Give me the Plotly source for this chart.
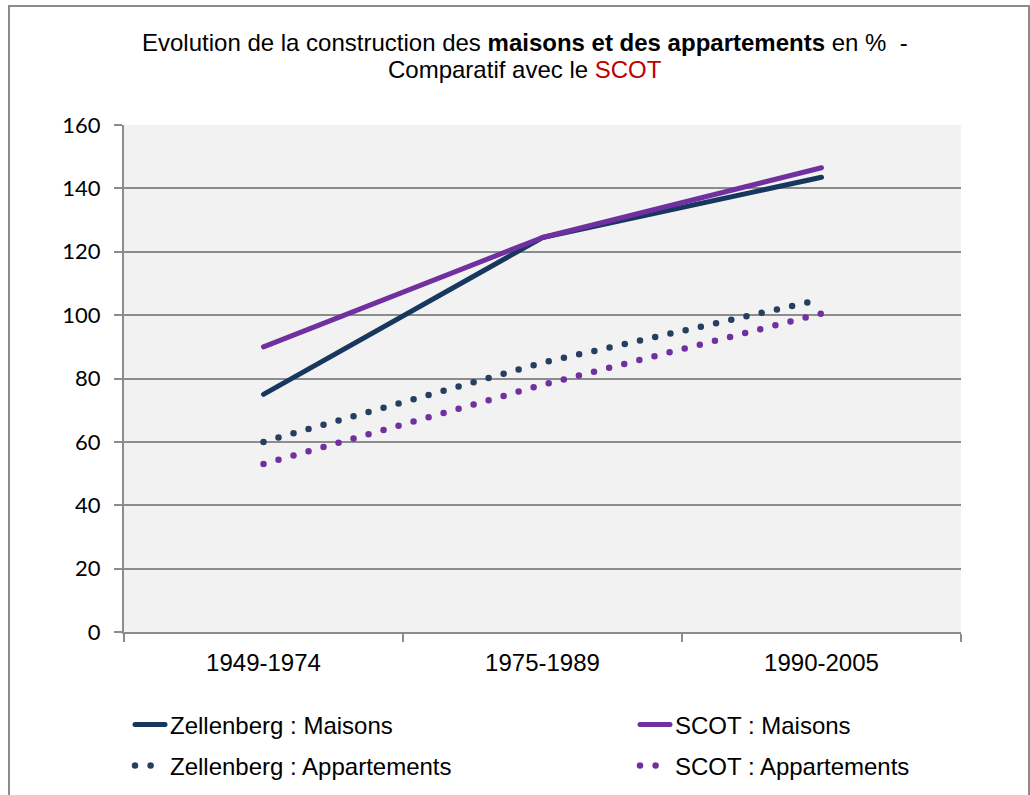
import plotly.graph_objects as go

periods = ["1949-1974", "1975-1989", "1990-2005"]
zellenberg_maisons = [75, 124.5, 143.5]
scot_maisons = [90, 124.5, 146.5]
zellenberg_appartements = [60, 85, 105]
scot_appartements = [53, 78, 100.5]

y_ticks = [0, 20, 40, 60, 80, 100, 120, 140, 160]

NAVY = "#17375E"
NAVY_DOT = "#243F60"
PURPLE = "#7030A0"
GRID = "#8C8C8C"
FONT = "Liberation Sans, Arial"

W, H = 1030, 795
L, R, T, B = 124, 69, 125, 163
PW, PH = W - L - R, H - T - B

def px_x(p):
    return (p - L) / PW

def px_y(p):
    return (H - B - p) / PH

fig = go.Figure()
fig.add_trace(go.Scatter(x=periods, y=zellenberg_maisons, mode="lines",
                         name="Zellenberg : Maisons", legend="legend", showlegend=True,
                         line=dict(color=NAVY, width=5)))
fig.add_trace(go.Scatter(x=periods, y=scot_maisons, mode="lines",
                         name="SCOT : Maisons", legend="legend2", showlegend=True,
                         line=dict(color=PURPLE, width=5)))
fig.add_trace(go.Scatter(x=periods, y=zellenberg_appartements, mode="lines",
                         name="Zellenberg : Appartements", legend="legend3", showlegend=True,
                         line=dict(color=NAVY_DOT, width=6.5, dash="0px,15.6px")))
fig.add_trace(go.Scatter(x=periods, y=scot_appartements, mode="lines",
                         name="SCOT : Appartements", legend="legend4", showlegend=True,
                         line=dict(color=PURPLE, width=6.5, dash="0px,15.6px")))

def leg(xp, yp):
    return dict(
        orientation="h", xref="paper", yref="paper",
        x=px_x(xp), xanchor="left", y=px_y(yp), yanchor="middle",
        font=dict(family=FONT, size=24, color="black"),
        bgcolor="rgba(0,0,0,0)", visible=True,
    )

fig.update_layout(
    width=W, height=H,
    showlegend=True,
    margin=dict(l=L, r=R, t=T, b=B, autoexpand=False),
    paper_bgcolor="white",
    plot_bgcolor="#F2F2F2",
    legend=leg(130, 725),
    legend2=leg(635, 725),
    legend3=leg(130, 766),
    legend4=leg(635, 766),
    annotations=[
        dict(xref="paper", yref="paper", x=px_x(525), y=px_y(42),
             xanchor="center", yanchor="middle", showarrow=False,
             text="Evolution de la construction des <b>maisons et des appartements</b> en %&nbsp; -",
             font=dict(family=FONT, size=24, color="black")),
        dict(xref="paper", yref="paper", x=px_x(525), y=px_y(69),
             xanchor="center", yanchor="middle", showarrow=False,
             text="Comparatif avec le <span style='color:#C00000'>SCOT</span>",
             font=dict(family=FONT, size=24, color="black")),
    ],
    xaxis=dict(
        type="category", range=[-0.5, 2.5], tickson="boundaries",
        ticks="outside", ticklen=8, tickwidth=1.5, tickcolor=GRID,
        showline=True, linecolor=GRID, linewidth=2, showgrid=False,
        tickfont=dict(family=FONT, size=24, color="black"),
        ticklabelstandoff=8,
    ),
    yaxis=dict(
        range=[0, 160], tickvals=y_ticks, ticks="outside", ticklen=8,
        tickwidth=1.5, tickcolor=GRID, showline=True, linecolor=GRID, linewidth=2,
        showgrid=True, gridcolor=GRID, gridwidth=2, zeroline=False,
        tickfont=dict(family="Lato", size=22, color="black"),
        ticklabelstandoff=9,
    ),
    shapes=[dict(type="rect", xref="paper", yref="paper",
                 x0=px_x(9), x1=px_x(1029), y0=px_y(800), y1=px_y(6),
                 line=dict(color="#8C8C8C", width=2), fillcolor="rgba(0,0,0,0)",
                 layer="below")],
)

css = ("var s=document.createElement('style');"
       "s.innerHTML='body{margin:0 !important;} .js-line, .legendlines path {stroke-linecap: round !important; stroke-linejoin: round !important;}';"
       "document.head.appendChild(s);")

fig.write_html("out.html", post_script=css, config={"displayModeBar": False})
